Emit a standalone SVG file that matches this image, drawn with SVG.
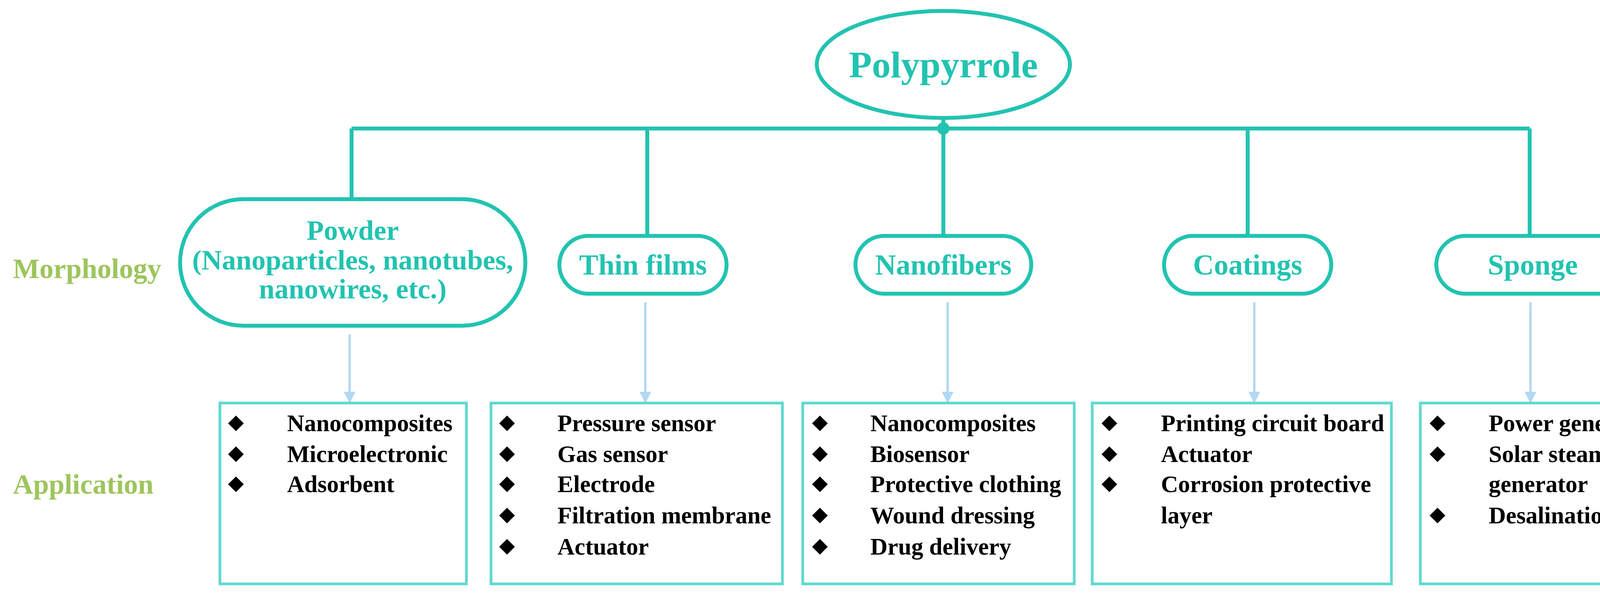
<svg xmlns="http://www.w3.org/2000/svg" width="4302" height="1526" viewBox="0 0 4302 1526">
<style>
.t{stroke:#22c3b0;stroke-width:10;fill:none}
.b{stroke:#5fd9cf;stroke-width:7;fill:#fff}
.a{stroke:#b3d8f2;stroke-width:6;fill:none}
.n{font-family:"Liberation Serif",serif;font-weight:bold;fill:#22c3b0;text-anchor:middle}
.g{font-family:"Liberation Serif",serif;font-weight:bold;fill:#9dc55c;font-size:72px}
.l{font-family:"Liberation Serif",serif;font-weight:bold;fill:#000;font-size:61px}
</style>
<defs>
<marker id="ah" viewBox="0 0 10 10" refX="9" refY="5" markerWidth="30" markerHeight="36" markerUnits="userSpaceOnUse" orient="auto"><path d="M0,0 L10,5 L0,10z" fill="#b3d8f2"/></marker>
<path id="d" d="M0,-20 L20,0 L0,20 L-20,0z" fill="#000"/></defs>
<rect width="4302" height="1526" fill="#fff"/>
<g id="connectors">
<path class="t" d="M900,329 H3916 M900,329 V510 M1657,329 V604 M2415,302 V604 M3194,329 V604 M3916,329 V604"/>
<circle cx="2415" cy="329" r="16" fill="#22c3b0"/>
<path class="a" marker-end="url(#ah)" d="M895,856 V1030"/>
<path class="a" marker-end="url(#ah)" d="M1652,774 V1030"/>
<path class="a" marker-end="url(#ah)" d="M2426,774 V1030"/>
<path class="a" marker-end="url(#ah)" d="M3211,774 V1030"/>
<path class="a" marker-end="url(#ah)" d="M3918,774 V1030"/>
</g>
<g id="root"><ellipse class="t" cx="2415" cy="165" rx="324" ry="137"/><text class="n" x="2415" y="198" font-size="96">Polypyrrole</text></g>
<text class="g" x="33" y="712">Morphology</text>
<text class="g" x="33" y="1264">Application</text>
<g id="powder"><rect class="t" x="461" y="510" width="884" height="324" rx="162"/>
<text class="n" x="903" y="614" font-size="72">Powder</text>
<text class="n" x="903" y="690" font-size="72">(Nanoparticles, nanotubes,</text>
<text class="n" x="903" y="764" font-size="72">nanowires, etc.)</text></g>
<g id="thinfilms"><rect class="t" x="1432" y="604" width="428" height="148" rx="74"/><text class="n" x="1646" y="703" font-size="74">Thin films</text></g>
<g id="nanofibers"><rect class="t" x="2190" y="604" width="450" height="148" rx="74"/><text class="n" x="2415" y="703" font-size="74">Nanofibers</text></g>
<g id="coatings"><rect class="t" x="2980" y="604" width="428" height="148" rx="74"/><text class="n" x="3194" y="703" font-size="74">Coatings</text></g>
<g id="sponge"><rect class="t" x="3677" y="604" width="494" height="148" rx="74"/><text class="n" x="3924" y="703" font-size="74">Sponge</text></g>
<g id="app1"><rect class="b" x="563" y="1032" width="631" height="463"/>
<use href="#d" x="604" y="1084"/><use href="#d" x="604" y="1163"/><use href="#d" x="604" y="1240"/>
<text class="l" x="735" y="1104">Nanocomposites</text><text class="l" x="735" y="1183">Microelectronic</text><text class="l" x="735" y="1260">Adsorbent</text></g>
<g id="app2"><rect class="b" x="1257" y="1032" width="746" height="463"/>
<use href="#d" x="1298" y="1084"/><use href="#d" x="1298" y="1163"/><use href="#d" x="1298" y="1240"/><use href="#d" x="1298" y="1320"/><use href="#d" x="1298" y="1400"/>
<text class="l" x="1427" y="1104">Pressure sensor</text><text class="l" x="1427" y="1183">Gas sensor</text><text class="l" x="1427" y="1260">Electrode</text><text class="l" x="1427" y="1340">Filtration membrane</text><text class="l" x="1427" y="1420">Actuator</text></g>
<g id="app3"><rect class="b" x="2055" y="1032" width="695" height="463"/>
<use href="#d" x="2099" y="1084"/><use href="#d" x="2099" y="1163"/><use href="#d" x="2099" y="1240"/><use href="#d" x="2099" y="1320"/><use href="#d" x="2099" y="1400"/>
<text class="l" x="2228" y="1104">Nanocomposites</text><text class="l" x="2228" y="1183">Biosensor</text><text class="l" x="2228" y="1260">Protective clothing</text><text class="l" x="2228" y="1340">Wound dressing</text><text class="l" x="2228" y="1420">Drug delivery</text></g>
<g id="app4"><rect class="b" x="2796" y="1032" width="766" height="463"/>
<use href="#d" x="2840" y="1084"/><use href="#d" x="2840" y="1163"/><use href="#d" x="2840" y="1240"/>
<text class="l" x="2972" y="1104">Printing circuit board</text><text class="l" x="2972" y="1183">Actuator</text><text class="l" x="2972" y="1260">Corrosion protective</text><text class="l" x="2972" y="1340">layer</text></g>
<g id="app5"><rect class="b" x="3636" y="1032" width="636" height="463"/>
<use href="#d" x="3680" y="1084"/><use href="#d" x="3680" y="1163"/><use href="#d" x="3680" y="1320"/>
<text class="l" x="3811" y="1104">Power generator</text><text class="l" x="3811" y="1183">Solar steam</text><text class="l" x="3811" y="1260">generator</text><text class="l" x="3811" y="1340">Desalination</text></g>
</svg>
